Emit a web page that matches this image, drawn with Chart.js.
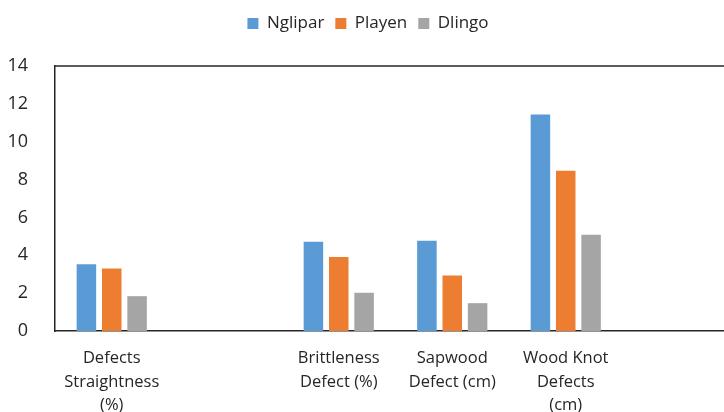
<!DOCTYPE html>
<html>
<head>
<meta charset="utf-8">
<script src="https://cdn.jsdelivr.net/npm/chart.js@4"></script>
<style>
  html, body { margin: 0; padding: 0; background: #fff; overflow: hidden; }
</style>
</head>
<body>
<canvas id="defectChart" width="770" height="412"></canvas>
<script>
// categories (blank ones are the empty slots in the original)
const categories = [
  ['Defects', 'Straightness', '(%)'],
  '',
  ['Brittleness', 'Defect (%)'],
  ['Sapwood', 'Defect (cm)'],
  ['Wood Knot', 'Defects', '(cm)'],
  ''
];
const nglipar = [3.53, null, 4.72, 4.77, 11.44, null];
const playen = [3.3, null, 3.91, 2.93, 8.46, null];
const dlingo = [1.84, null, 2.02, 1.47, 5.09, null];
const yTicks = [0, 2, 4, 6, 8, 10, 12, 14];

const fontFamily = '"Open Sans", Lato, sans-serif';

// top frame line of the plot area
const topFrame = {
  id: 'topFrame',
  afterDraw(chart) {
    const { ctx, chartArea } = chart;
    ctx.save();
    ctx.strokeStyle = '#262626';
    ctx.lineWidth = 1.5;
    ctx.beginPath();
    ctx.moveTo(chartArea.left, chartArea.top);
    ctx.lineTo(chart.width, chartArea.top);
    ctx.stroke();
    ctx.restore();
  }
};

// extra room under the legend
const legendGap = {
  id: 'legendGap',
  beforeInit(chart) {
    const fit = chart.legend.fit;
    chart.legend.fit = function () {
      fit.bind(chart.legend)();
      this.height += 24;
    };
  }
};

const ctx = document.getElementById('defectChart').getContext('2d');
new Chart(ctx, {
  type: 'bar',
  data: {
    labels: categories,
    datasets: [
      { label: 'Nglipar', data: nglipar, backgroundColor: '#5B9BD5' },
      { label: 'Playen', data: playen, backgroundColor: '#ED7D31' },
      { label: 'Dlingo', data: dlingo, backgroundColor: '#A5A5A5' },
    ],
  },
  options: {
    responsive: false,
    animation: false,
    categoryPercentage: 0.67,
    barPercentage: 0.77,
    layout: { padding: { top: 4, right: 34, bottom: 0, left: 0 } },
    plugins: {
      tooltip: { enabled: false },
      legend: {
        position: 'top',
        labels: {
          boxWidth: 11,
          boxHeight: 11,
          padding: 11,
          color: '#262626',
          font: { family: fontFamily, size: 17 },
        },
      },
    },
    scales: {
      x: {
        grid: { display: false },
        border: { color: '#262626', width: 1.5 },
        ticks: {
          autoSkip: false,
          maxRotation: 0,
          padding: 8,
          color: '#262626',
          font: { family: fontFamily, size: 16.5, lineHeight: 1.42 },
        },
        afterFit: (scale) => { scale.height = 81; },
      },
      y: {
        min: 0,
        max: 14,
        grid: { display: false },
        border: { color: '#262626', width: 1.5 },
        afterBuildTicks: (scale) => { scale.ticks = yTicks.map(v => ({ value: v })); },
        ticks: {
          padding: 19,
          color: '#262626',
          font: { family: fontFamily, size: 18 },
        },
        afterFit: (scale) => { scale.width = 55; },
      },
    },
  },
  plugins: [topFrame, legendGap],
});
</script>
</body>
</html>
